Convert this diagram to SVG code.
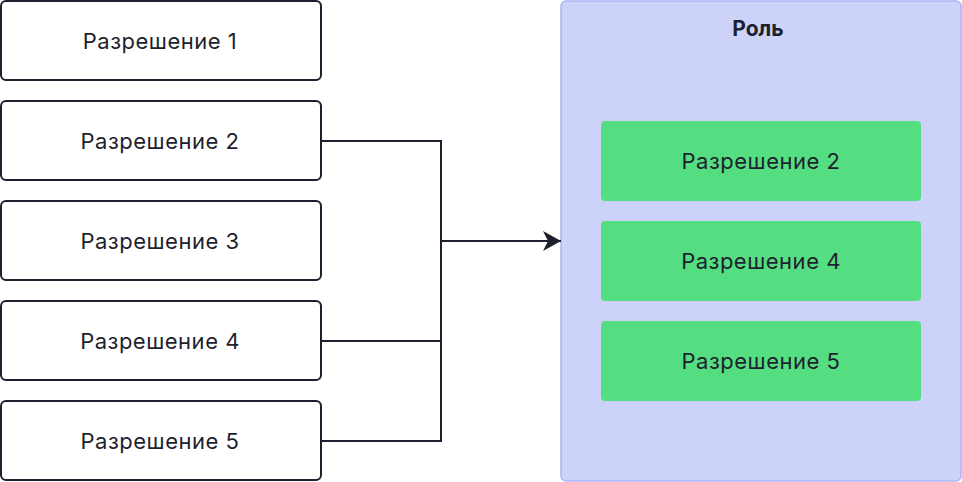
<svg xmlns="http://www.w3.org/2000/svg" width="962" height="482" viewBox="0 0 962 482">
<defs>
<style>
.p{fill:#ffffff;stroke:#1e1f2e;stroke-width:2}
.g{fill:#55dd82;stroke:none}
.t{font-family:Inter,"Noto Sans",sans-serif;font-size:22px;fill:#1e1f2e;text-anchor:middle;dominant-baseline:central;letter-spacing:0.5px}
.b{font-size:21px;font-weight:bold;letter-spacing:0}
.c{fill:none;stroke:#1e1f2e;stroke-width:2}
</style>
<marker id="ah" viewBox="0 0 18 20" refX="18" refY="10" markerWidth="18" markerHeight="20" markerUnits="userSpaceOnUse" orient="auto">
<path d="M0,0 L18,10 L0,20 L5,10 Z" fill="#1e1f2e"/>
</marker>
</defs>
<g id="role">
<rect x="561" y="1" width="400" height="480" rx="5" fill="#cdd3f8" stroke="#aab4f5" stroke-width="1.5"/>
<text x="758" y="28" class="t b">Роль</text>
</g>
<g id="p1"><rect class="p" x="1" y="1" width="320" height="79" rx="5"/><text class="t" x="160" y="41">Разрешение 1</text></g>
<g id="p2"><rect class="p" x="1" y="101" width="320" height="79" rx="5"/><text class="t" x="160" y="141">Разрешение 2</text></g>
<g id="p3"><rect class="p" x="1" y="201" width="320" height="79" rx="5"/><text class="t" x="160" y="241">Разрешение 3</text></g>
<g id="p4"><rect class="p" x="1" y="301" width="320" height="79" rx="5"/><text class="t" x="160" y="341">Разрешение 4</text></g>
<g id="p5"><rect class="p" x="1" y="401" width="320" height="79" rx="5"/><text class="t" x="160" y="441">Разрешение 5</text></g>
<g id="r2"><rect class="g" x="601" y="121" width="320" height="80" rx="4"/><text class="t" x="761" y="161">Разрешение 2</text></g>
<g id="r4"><rect class="g" x="601" y="221" width="320" height="80" rx="4"/><text class="t" x="761" y="261">Разрешение 4</text></g>
<g id="r5"><rect class="g" x="601" y="321" width="320" height="80" rx="4"/><text class="t" x="761" y="361">Разрешение 5</text></g>
<g id="connectors">
<path class="c" d="M321,141 H441 V241 H561" marker-end="url(#ah)"/>
<path class="c" d="M321,341 H441 V241"/>
<path class="c" d="M321,441 H441 V241"/>
</g>
</svg>
